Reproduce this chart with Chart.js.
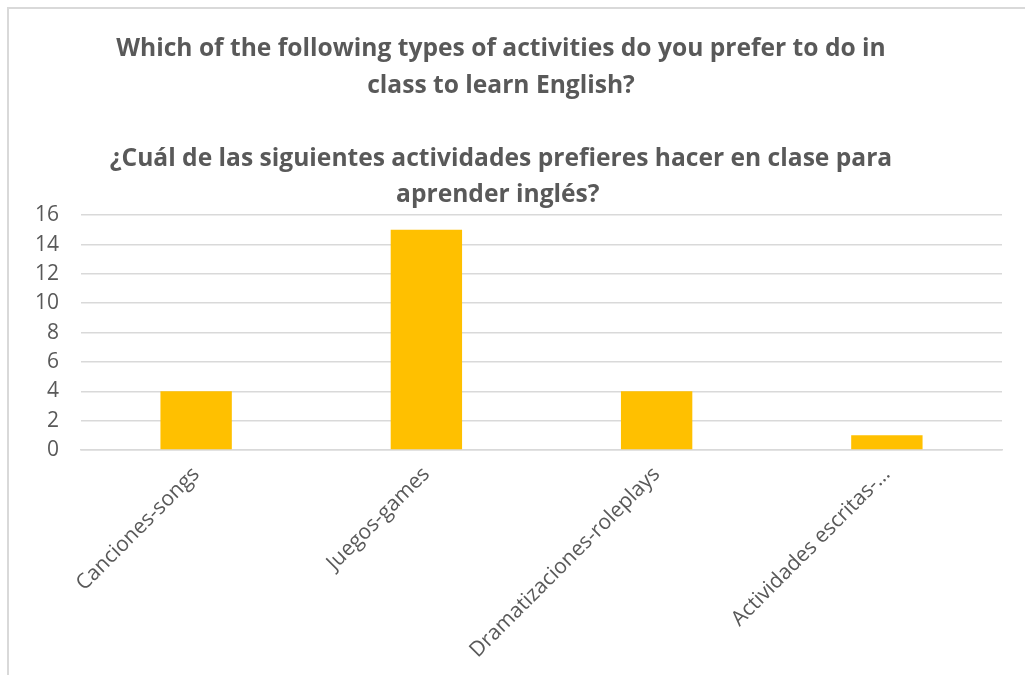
<!DOCTYPE html>
<html>
<head>
<meta charset="utf-8">
<script src="https://cdn.jsdelivr.net/npm/chart.js@4/dist/chart.umd.min.js"></script>
<style>
  html, body { margin: 0; padding: 0; background: #fff; overflow: hidden; }
  #wrap { position: relative; width: 1025px; height: 675px; }
  #frame {
    position: absolute; left: 7px; top: 7px; width: 1100px; height: 700px;
    border-left: 2px solid #d9d9d9; border-top: 2px solid #d9d9d9;
    box-sizing: border-box; pointer-events: none;
  }
  canvas { position: absolute; left: 0; top: 0; }
</style>
</head>
<body>
<div id="wrap">
  <canvas id="chart" width="1025" height="675"></canvas>
  <div id="frame"></div>
</div>
<script>
// Survey answers: preferred classroom activities for learning English
const categories = [
  'Canciones-songs',
  'Juegos-games',
  'Dramatizaciones-roleplays',
  'Actividades escritas-…'
];
const responses = [4, 15, 4, 1];
const titleLines = [
  'Which of the following types of activities do you prefer to do in',
  'class to learn English?',
  '',
  '¿Cuál de las siguientes actividades prefieres hacer en clase para',
  'aprender inglés? '
];
const yTicks = { min: 0, max: 16, step: 2 };

const textColor = '#595959';
const gridColor = '#d9d9d9';
const fontFamily = '"Open Sans", "Liberation Sans", sans-serif';

new Chart(document.getElementById('chart'), {
  type: 'bar',
  data: {
    labels: categories,
    datasets: [{
      data: responses,
      backgroundColor: '#FFC000',
      borderWidth: 0,
      categoryPercentage: 1,
      barPercentage: 0.31
    }]
  },
  options: {
    responsive: false,
    animation: false,
    layout: { padding: { left: 0, right: 23, top: 31, bottom: 0 } },
    plugins: {
      legend: { display: false },
      tooltip: { enabled: false },
      title: {
        display: true,
        text: titleLines,
        color: textColor,
        font: { family: fontFamily, size: 24.6, weight: 'bold', lineHeight: 1.485 },
        padding: { top: 0, bottom: 1.5 }
      }
    },
    scales: {
      x: {
        grid: { display: false, drawTicks: false },
        border: { display: true, color: gridColor, width: 1.5 },
        ticks: {
          color: textColor,
          font: { family: fontFamily, size: 21 },
          maxRotation: 45,
          minRotation: 45,
          autoSkip: false,
          padding: 12
        }
      },
      y: {
        min: yTicks.min,
        max: yTicks.max,
        // extra room on the left of the value labels
        afterFit: (scale) => { scale.width += 13; },
        grid: { color: gridColor, lineWidth: 1.5, drawTicks: false },
        border: { display: false },
        ticks: {
          stepSize: yTicks.step,
          color: textColor,
          font: { family: fontFamily, size: 21 },
          padding: 22
        }
      }
    }
  }
});
</script>
</body>
</html>
